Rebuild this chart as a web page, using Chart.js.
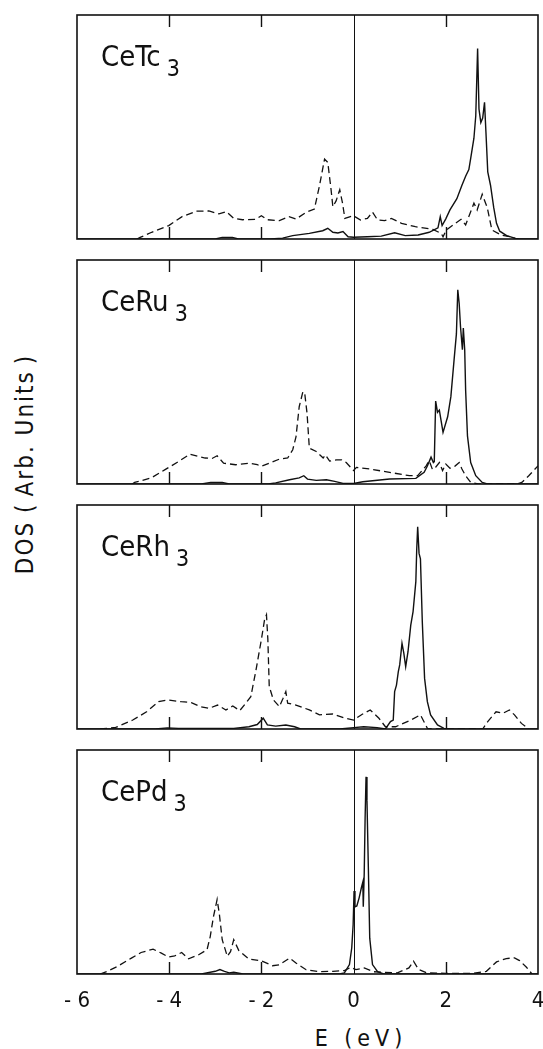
<!DOCTYPE html>
<html>
<head>
<meta charset="utf-8">
<title>Ce compounds DOS</title>
<script src="https://cdn.jsdelivr.net/npm/chart.js@4.4.1/dist/chart.umd.min.js"></script>
<style>
  html, body { margin: 0; padding: 0; background: #fff; overflow: hidden; }
  #figure { position: relative; width: 543px; height: 1049px; }
  #figure canvas { position: absolute; left: 0; }
  .label {
    position: absolute; left: 101px; line-height: 1; white-space: nowrap; color: #111;
    font-family: "DejaVu Sans Condensed", "DejaVu Sans", sans-serif; font-stretch: condensed; font-size: 29px;
  }
  .label sub { font-size: 23px; vertical-align: -10px; margin-left: 6px; line-height: 1; }
  .title {
    position: absolute; white-space: nowrap; line-height: 1; color: #111;
    font-family: "DejaVu Sans Condensed", "DejaVu Sans", sans-serif; font-stretch: condensed;
  }
  #ytitle { left: 25px; top: 464px; font-size: 24px; letter-spacing: 2px; transform: translate(-50%, -50%) rotate(-90deg); }
  #ytitle .po { margin: 0 6px 0 8px; }
  #ytitle .pc { margin-left: 6px; }
  #xtitle { left: 361px; top: 1038px; font-size: 23px; letter-spacing: 5px; transform: translate(-50%, -50%); }
</style>
</head>
<body>
<div id="figure">
  <div id="ytitle" class="title">DOS<span class="po">(</span>Arb. Units<span class="pc">)</span></div>
  <div id="xtitle" class="title">E (eV)</div>
</div>
<script>
const INK = "#111";
const FONT = "'DejaVu Sans Condensed', 'DejaVu Sans', sans-serif";

const panelTops = [15, 260, 505, 750];
const PANEL_H = 224;
const E_MIN = -6, E_MAX = 4;
const energyTicks = [-6, -4, -2, 0, 2, 4];
const innerTicks = [-4, -2, 2];
const compounds = ["CeTc", "CeRu", "CeRh", "CePd"];

// [E (eV), DOS] pairs, DOS on a 0-100 panel scale

const tcDashed = [[-4.70,0],[-4.63,0.7],[-4.38,3],[-4.01,6],[-3.72,10],[-3.40,12.4],[-3.14,12.5],[-2.92,11.2],[-2.76,12.2],[-2.60,9.2],[-2.41,8.6],[-2.12,8.8],[-2.0,10.4],[-1.87,8.6],[-1.61,8.2],[-1.40,10],[-1.25,8.9],[-1.03,11.9],[-0.85,13.4],[-0.74,23.8],[-0.63,35.7],[-0.56,34.2],[-0.49,22.3],[-0.45,14.4],[-0.38,17],[-0.30,22],[-0.24,16],[-0.19,9.2],[-0.07,10],[0,10.3],[0.15,8.5],[0.30,9.2],[0.41,12],[0.52,8.5],[0.67,8.2],[0.82,9.2],[1.04,7],[1.34,5.5],[1.72,4.3],[1.90,2.5],[1.94,1],[2.01,4],[2.16,6.3],[2.33,8.8],[2.43,6.3],[2.61,16],[2.68,13],[2.79,20],[2.90,14],[3.0,4],[3.2,1.8],[3.4,1],[3.55,0]];

const tcSolid = [[-6,0],[-3.0,0],[-2.85,0.7],[-2.63,0.7],[-2.5,0],[-1.8,0],[-1.54,0.4],[-1.32,1.5],[-0.96,2.5],[-0.67,3.7],[-0.56,4.8],[-0.45,3],[-0.34,2.7],[-0.23,3.3],[-0.12,1],[0,0.8],[0.3,1],[0.6,1.3],[0.89,2.8],[1.12,1.5],[1.4,1.8],[1.64,3],[1.83,5],[1.88,10],[1.92,6],[2.0,9],[2.09,13],[2.24,18],[2.35,24],[2.43,28],[2.50,31],[2.54,36],[2.61,45],[2.65,55],[2.67,70],[2.69,85],[2.72,58],[2.76,52],[2.80,54],[2.84,61],[2.87,48],[2.91,30],[2.97,24],[3.04,14],[3.10,7],[3.17,3.5],[3.32,1.5],[3.51,0.3],[3.6,0],[4,0]];

const ruDashed = [[-4.80,0],[-4.75,0.7],[-4.39,2.7],[-4.09,6.4],[-3.80,10],[-3.55,13.3],[-3.22,11.6],[-3.07,11.4],[-2.96,12.6],[-2.82,9.3],[-2.56,8.6],[-2.27,9.3],[-2.09,8.6],[-2.0,7.9],[-1.83,9.3],[-1.61,11.1],[-1.43,11.6],[-1.32,15.3],[-1.25,21],[-1.18,34.5],[-1.10,41.2],[-1.06,40.4],[-1.01,31.6],[-0.96,16],[-0.81,14.5],[-0.66,11.6],[-0.61,13],[-0.52,10.2],[-0.37,10.8],[-0.26,10.8],[-0.16,9.6],[0,6],[0.06,7.4],[0.35,6.7],[0.78,5.2],[1.21,3.7],[1.39,3.7],[1.57,8],[1.64,10.4],[1.71,6.5],[1.78,7.5],[1.86,9.6],[1.93,6],[2.0,8.9],[2.09,7],[2.2,8],[2.29,9.6],[2.35,6.7],[2.43,3.7],[2.54,0.7],[2.7,0],[3.55,0],[3.65,0.7],[3.8,3.7],[4.0,8.1]];

const ruSolid = [[-6,0],[-3.3,0],[-3.1,0.7],[-2.85,0.7],[-2.7,0],[-1.85,0],[-1.69,0.5],[-1.39,1.9],[-1.18,2.7],[-1.08,3.7],[-1.0,2.2],[-0.81,1.6],[-0.59,1.9],[-0.41,1.2],[-0.23,0.3],[0,0.2],[0.2,1],[0.78,2.2],[1.35,2.5],[1.53,5.2],[1.60,8],[1.68,12],[1.73,9.6],[1.75,10],[1.78,37],[1.82,32],[1.86,33],[1.94,23],[2.04,30],[2.11,39],[2.18,55.5],[2.23,67],[2.26,86.7],[2.29,80.7],[2.32,70],[2.36,60],[2.38,69.6],[2.41,60],[2.43,42],[2.47,21.5],[2.54,9.6],[2.65,3.7],[2.79,0.7],[2.9,0],[4,0]];

const rhDashed = [[-5.50,0],[-5.16,0.7],[-4.79,4],[-4.49,7.7],[-4.23,12.2],[-4.04,13],[-3.74,12.2],[-3.52,11.8],[-3.33,10],[-3.14,9.2],[-2.95,10.7],[-2.77,8.5],[-2.62,10.3],[-2.47,8.2],[-2.34,11.5],[-2.23,14.4],[-2.12,26],[-2.0,40],[-1.93,49],[-1.89,51],[-1.86,40],[-1.83,19],[-1.74,13],[-1.61,10],[-1.53,13.7],[-1.47,16.7],[-1.43,11.5],[-1.25,10.7],[-0.96,8.5],[-0.74,6.3],[-0.45,6.7],[-0.19,4.8],[0,4],[0.18,6.5],[0.36,8.5],[0.55,4.8],[0.69,1],[0.91,1],[1.24,4],[1.45,6.3],[1.6,0.3],[1.7,0],[2.8,0],[2.91,3.3],[3.09,7.7],[3.24,7],[3.38,8.5],[3.49,6.3],[3.64,2.5],[3.8,0]];

const rhSolid = [[-6,0],[-4.3,0],[-4.04,0.5],[-3.8,0.3],[-3.2,0.2],[-2.6,0.3],[-2.27,1],[-2.09,2],[-1.96,4.8],[-1.87,1.8],[-1.69,1.3],[-1.47,1.8],[-1.28,1],[-1.15,0],[-0.3,0],[0,0.6],[0.22,1],[0.51,0.6],[0.69,0],[0.8,3.3],[0.86,4],[0.89,16.7],[0.93,19.6],[0.97,25.6],[1.0,28.6],[1.05,38.2],[1.09,33.8],[1.13,27.8],[1.18,34.5],[1.24,46.4],[1.29,52.4],[1.35,65.8],[1.37,80.7],[1.39,90.3],[1.42,78.4],[1.45,76],[1.49,48],[1.54,22.6],[1.6,12.2],[1.67,6.3],[1.82,1.8],[1.96,0.3],[2.1,0],[4,0]];

const pdDashed = [[-5.50,0],[-5.34,1.2],[-5.12,3.4],[-4.82,7.1],[-4.61,9.6],[-4.35,11.1],[-4.17,9.3],[-4.02,7.6],[-3.88,8.1],[-3.73,9.6],[-3.58,6.8],[-3.36,8.6],[-3.18,10.8],[-3.11,16.7],[-3.04,25.6],[-2.96,33.3],[-2.91,26.4],[-2.85,15.3],[-2.74,7.9],[-2.67,10],[-2.6,15.3],[-2.49,10.5],[-2.27,6.7],[-2.0,5.9],[-1.76,3.7],[-1.61,4.1],[-1.39,7.1],[-1.25,4.9],[-1.03,1.9],[-0.74,1],[-0.45,1.2],[-0.2,1.5],[-0.06,3],[0.05,2],[0.23,2.7],[0.44,1],[0.95,0.5],[1.2,2.7],[1.3,5.7],[1.41,2],[1.59,0.5],[2.0,0.3],[2.6,0.3],[2.88,1.2],[3.1,5.4],[3.31,6.9],[3.49,7.2],[3.6,6],[3.75,3],[3.87,0]];

const pdSolid = [[-6,0],[-3.3,0],[-3.0,1.2],[-2.9,2],[-2.8,1.2],[-2.7,0.5],[-2.6,0.8],[-2.4,0],[-0.3,0],[-0.2,0.5],[-0.09,4.2],[-0.04,11.7],[-0.01,22],[0.01,37],[0.03,30],[0.07,30.4],[0.12,34],[0.17,38.6],[0.2,41],[0.21,30],[0.23,44.6],[0.25,70],[0.27,88],[0.29,77.5],[0.32,47.6],[0.35,16],[0.41,4.2],[0.52,1],[0.65,0],[4,0]];

const dashedCurves = [tcDashed, ruDashed, rhDashed, pdDashed];
const solidCurves = [tcSolid, ruSolid, rhSolid, pdSolid];

const toPoints = (pairs) => pairs.map(([x, y]) => ({ x, y }));

// Box, inward tick marks and the Fermi-level line at E = 0
const panelFrame = {
  id: "panelFrame",
  afterDatasetsDraw(chart) {
    const { ctx, chartArea: a, scales: { x } } = chart;
    ctx.save();
    ctx.strokeStyle = INK;
    ctx.lineWidth = 1;
    ctx.beginPath();
    const x0 = Math.round(x.getPixelForValue(0)) + 0.5;
    ctx.moveTo(x0, a.top);
    ctx.lineTo(x0, a.bottom);
    ctx.stroke();

    ctx.lineWidth = 1.4;
    ctx.beginPath();
    for (const v of innerTicks) {
      const px = Math.round(x.getPixelForValue(v)) + 0.5;
      ctx.moveTo(px, a.top);
      ctx.lineTo(px, a.top + 12);
      ctx.moveTo(px, a.bottom);
      ctx.lineTo(px, a.bottom - 12);
    }
    ctx.stroke();

    ctx.lineWidth = 1.6;
    ctx.strokeRect(a.left, a.top, a.right - a.left, a.bottom - a.top);
    ctx.restore();
  },
};

const fig = document.getElementById("figure");

function makePanel(i) {
  const last = i === compounds.length - 1;
  const h = last ? 270 : PANEL_H + 4;

  const canvas = document.createElement("canvas");
  canvas.width = 543;
  canvas.height = h;
  canvas.style.top = panelTops[i] - 2 + "px";
  fig.appendChild(canvas);

  const label = document.createElement("div");
  label.className = "label";
  label.style.top = panelTops[i] + 27 + "px";
  label.textContent = compounds[i];
  const sub = document.createElement("sub");
  sub.textContent = "3";
  label.appendChild(sub);
  fig.appendChild(label);

  new Chart(canvas, {
    type: "line",
    data: {
      datasets: [
        {
          label: "dashed",
          data: toPoints(dashedCurves[i]),
          borderColor: INK,
          borderWidth: 1.3,
          borderDash: [7, 4],
          pointRadius: 0,
          tension: 0,
        },
        {
          label: "solid",
          data: toPoints(solidCurves[i]),
          borderColor: INK,
          borderWidth: 1.4,
          pointRadius: 0,
          tension: 0,
        },
      ],
    },
    options: {
      responsive: false,
      animation: false,
      events: [],
      layout: { padding: { left: 77, right: 5, top: 2, bottom: last ? 0 : 2 } },
      plugins: { legend: { display: false }, tooltip: { enabled: false } },
      scales: {
        x: {
          type: "linear",
          min: E_MIN,
          max: E_MAX,
          display: last,
          grid: { display: false, drawTicks: false },
          border: { display: false },
          afterBuildTicks: (s) => {
            s.ticks = energyTicks.map((v) => ({ value: v }));
          },
          ticks: {
            padding: 14,
            color: INK,
            autoSkip: false,
            maxRotation: 0,
            font: { family: FONT, size: 22 },
            callback: (v) => (v < 0 ? "- " + Math.abs(v) : String(v)),
          },
          afterFit: (s) => {
            if (last) s.height = h - 2 - PANEL_H;
            s.paddingLeft = 0;
            s.paddingRight = 0;
          },
        },
        y: { min: 0, max: 100, display: false },
      },
    },
    plugins: [panelFrame],
  });
}

compounds.forEach((_, i) => makePanel(i));
</script>
</body>
</html>
